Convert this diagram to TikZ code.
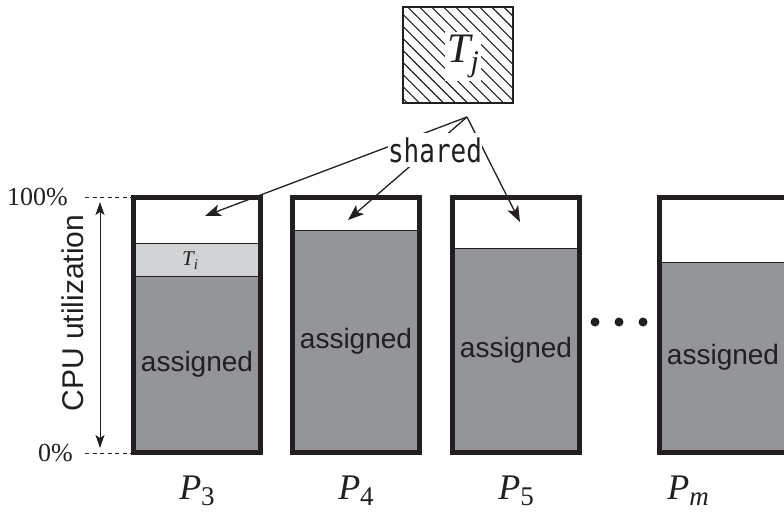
\documentclass[tikz,border=0pt]{standalone}
\usepackage{fontspec}
\setmainfont{Liberation Serif}
\setsansfont{Liberation Sans}
\setmonofont{DejaVu Sans Mono}
\usepackage{graphicx}
\usetikzlibrary{arrows.meta,patterns.meta}
\definecolor{ink}{RGB}{35,31,32}
\definecolor{darkfill}{RGB}{147,149,152}
\definecolor{lightfill}{RGB}{209,211,212}
\tikzset{
  procframe/.style={draw=ink, line width=5pt},
  levelline/.style={draw=ink, line width=0.8pt},
  assignedtext/.style={text=ink, font=\sffamily\fontsize{28}{30}\selectfont, inner sep=0pt},
  plabel/.style={text=ink, anchor=base, inner sep=0pt},
  pct/.style={text=ink, anchor=east, inner sep=0pt, font=\fontsize{26}{28}\selectfont},
  guide/.style={draw=ink, line width=1pt, dash pattern=on 4pt off 3.5pt},
  sharearrow/.style={draw=ink, line width=1.3pt, -{Stealth[length=16pt,width=12pt,inset=4pt]}},
  dotmark/.style={fill=ink, circle, inner sep=0pt, minimum size=9pt},
}
\newcommand{\plab}[1]{\fontsize{36}{40}\selectfont\itshape P\raisebox{-6pt}{\fontsize{27}{30}\selectfont #1}}
\begin{document}
\begin{tikzpicture}[x=1pt,y=-1pt]
\clip (0,0) rectangle (784,513);
% processor boxes
\foreach \L/\b/\n in {133.5/276/3, 292.5/230/4, 452.5/248/5, 659.5/262/m} {
  \fill[darkfill] (\L,\b) rectangle (\L+127,452.5);
  \draw[levelline] (\L,\b) -- (\L+127,\b);
  \node[assignedtext] (as\n) at (\L+63.5, {(\b+452.5)/2}) {assigned};
}
% T_i band
\fill[lightfill] (133.5,243) rectangle (260.5,276);
\draw[levelline] (133.5,243) -- (260.5,243);
\draw[levelline] (133.5,276) -- (260.5,276);
\node[plabel, font=\fontsize{21}{22}\selectfont\itshape] (ti) at (190,265) {T\raisebox{-4pt}{\fontsize{15}{16}\selectfont i}};
\foreach \L in {133.5, 292.5, 452.5, 659.5} {
  \draw[procframe] (\L,197.5) rectangle (\L+127,452.5);
}
% processor labels
\node[plabel] (p3) at (197,499) {\plab{\upshape 3}};
\node[plabel] (p4) at (356,499) {\plab{\upshape 4}};
\node[plabel] (p5) at (516,499) {\plab{\upshape 5}};
\node[plabel] (pm) at (688,499) {\plab{m}};
% dots
\node[dotmark] (d1) at (595,322) {};
\node[dotmark] (d2) at (619,322) {};
\node[dotmark] (d3) at (643,322) {};
% percent scale
\node[pct] (hundred) at (68,197) {100\%};
\node[pct] (zero) at (73,453) {0\%};
\coordinate (g1a) at (85,197.5);
\coordinate (g1b) at (131,197.5);
\coordinate (g0a) at (85,453);
\coordinate (g0b) at (131,453);
\draw[guide] (g1a) -- (g1b);
\draw[guide] (g0a) -- (g0b);
\coordinate (cputop) at (100,202);
\coordinate (cpubot) at (100,448);
\draw[draw=ink, line width=1pt, {Stealth[length=13pt,width=9pt,inset=3pt]}-{Stealth[length=13pt,width=9pt,inset=3pt]}] (cputop) -- (cpubot);
\node[rotate=90, text=ink, font=\sffamily\fontsize{30}{32}\selectfont, inner sep=0pt] (cpu) at (73,313) {CPU utilization};
% shared task
\path[pattern={Lines[angle=-45,distance=8.5pt,line width=1.1pt]}, pattern color=ink] (403,7) rectangle (513,103);
\draw[ink, line width=1.5pt] (403,7) rectangle (513,103);
\node[plabel, fill=white, inner xsep=2pt, inner ysep=3pt, font=\fontsize{42}{44}\selectfont\itshape] (tj) at (463,63) {T\raisebox{-9pt}{\fontsize{30}{32}\selectfont j}};
% arrows
\coordinate (apex) at (467,117);
\coordinate (tip3) at (205,216);
\coordinate (tip4) at (348,220);
\coordinate (tip5) at (520,222);
\draw[sharearrow] (apex) -- (tip3);
\draw[sharearrow] (apex) -- (tip4);
\draw[sharearrow] (apex) -- (tip5);
\node[fill=white, inner xsep=0pt, inner ysep=4pt, text=ink] (shared) at (435,150) {\scalebox{1}[1.25]{\ttfamily\fontsize{26}{28}\selectfont shared}};
\end{tikzpicture}
\end{document}
